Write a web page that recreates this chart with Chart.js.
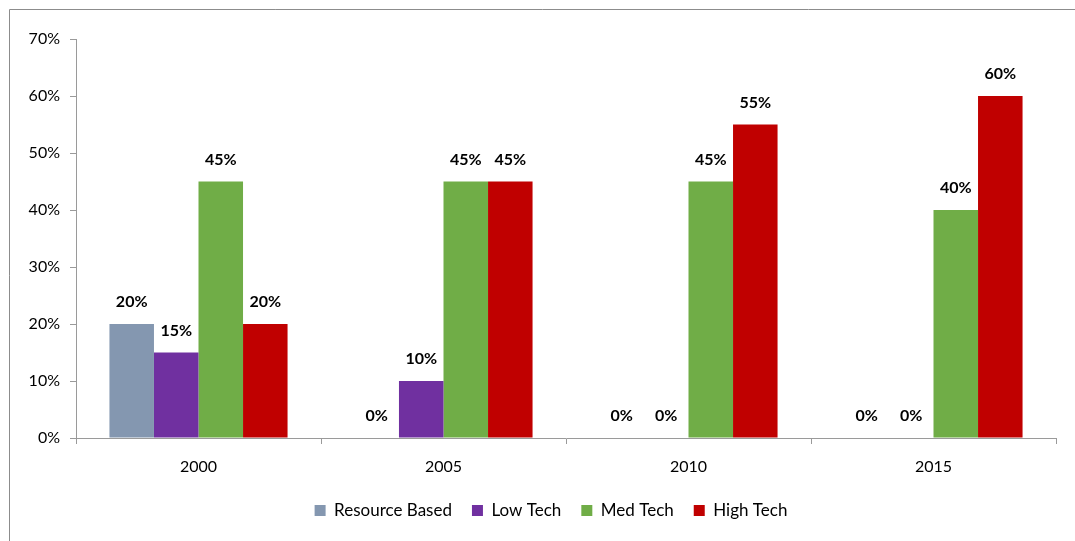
<!DOCTYPE html>
<html lang="en">
<head>
  <meta charset="UTF-8" />
  <title>Export share by technology</title>
  <script src="https://cdn.jsdelivr.net/npm/chart.js"></script>
  <style>
    body { margin: 0; background: #fff; }
    #wrap { width: 1075px; height: 541px; position: relative; }
  </style>
</head>
<body>

<div id="wrap">
  <canvas id="techChart"></canvas>
</div>

<script>
  const years = ['2000', '2005', '2010', '2015'];
  const resourceBased = [20, 0, 0, 0];
  const lowTech = [15, 10, 0, 0];
  const medTech = [45, 45, 45, 40];
  const highTech = [20, 45, 55, 60];
  const yTicks = [0, 10, 20, 30, 40, 50, 60, 70];

  const axisGray = '#9a9a9a';
  const font = 'Lato, "Liberation Sans", sans-serif';

  // values printed above every bar, zeros included
  const barLabels = {
    id: 'barLabels',
    afterDatasetsDraw(chart) {
      const ctx = chart.ctx;
      ctx.save();
      ctx.font = 'bold 16px ' + font;
      ctx.fillStyle = '#000';
      ctx.textAlign = 'center';
      ctx.textBaseline = 'middle';
      chart.data.datasets.forEach((ds, i) => {
        chart.getDatasetMeta(i).data.forEach((bar, j) => {
          ctx.fillText(ds.data[j] + '%', bar.x, bar.y - 22);
        });
      });
      ctx.restore();
    }
  };

  // thin frame along top and left like the original
  const frame = {
    id: 'frame',
    beforeDraw(chart) {
      const ctx = chart.ctx;
      ctx.save();
      ctx.strokeStyle = '#8c8c8c';
      ctx.lineWidth = 1;
      ctx.beginPath();
      ctx.moveTo(9.5, chart.height);
      ctx.lineTo(9.5, 9.5);
      ctx.lineTo(chart.width, 9.5);
      ctx.stroke();
      ctx.restore();
    }
  };

  // the original legend sits a little right of the canvas centre
  const legendShift = {
    id: 'legendShift',
    afterLayout(chart) {
      chart.legend.left += 23;
      chart.legend.right += 23;
    }
  };

  const ctx = document.getElementById('techChart').getContext('2d');

  new Chart(ctx, {
    type: 'bar',
    data: {
      labels: years,
      datasets: [
        { label: 'Resource Based', data: resourceBased, backgroundColor: '#8497B0' },
        { label: 'Low Tech', data: lowTech, backgroundColor: '#7030A0' },
        { label: 'Med Tech', data: medTech, backgroundColor: '#70AD47' },
        { label: 'High Tech', data: highTech, backgroundColor: '#C00000' }
      ]
    },
    options: {
      responsive: true,
      maintainAspectRatio: false,
      animation: false,
      categoryPercentage: 0.727,
      barPercentage: 1,
      layout: { padding: { top: 39, right: 19, left: 0, bottom: 12 } },
      plugins: {
        tooltip: { enabled: false },
        legend: {
          position: 'bottom',
          labels: {
            color: '#000',
            font: { family: font, size: 17 },
            boxWidth: 11,
            boxHeight: 11,
            padding: 20
          }
        }
      },
      scales: {
        x: {
          afterFit(axis) { axis.height = 44; },
          grid: { display: true, drawOnChartArea: false, tickLength: 6, color: axisGray, offset: true },
          border: { color: axisGray },
          ticks: { color: '#000', font: { family: font, size: 16 }, padding: 13 }
        },
        y: {
          min: 0,
          max: 70,
          afterBuildTicks(axis) { axis.ticks = yTicks.map(v => ({ value: v })); },
          afterFit(axis) { axis.width = 76; },
          grid: { display: true, drawOnChartArea: false, tickLength: 6, color: axisGray },
          border: { color: axisGray },
          ticks: {
            color: '#000',
            font: { family: font, size: 16 },
            padding: 10,
            callback: v => v + '%'
          }
        }
      }
    },
    plugins: [barLabels, frame, legendShift]
  });
</script>

</body>
</html>
